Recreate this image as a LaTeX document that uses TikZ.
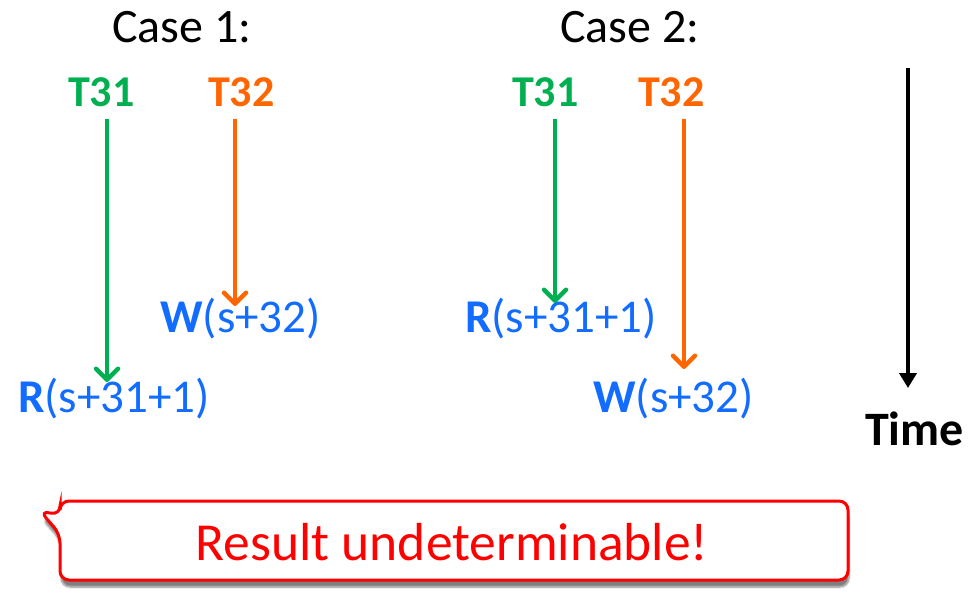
\documentclass[tikz,border=0pt]{standalone}
\usepackage{fontspec}
\setmainfont{Carlito}
\usetikzlibrary{arrows.meta,calc,shadows.blur}
\definecolor{tgreen}{RGB}{0,176,80}
\definecolor{torange}{RGB}{255,102,0}
\definecolor{opblue}{RGB}{17,108,255}
\definecolor{alertred}{RGB}{255,0,0}
\begin{document}
\begin{tikzpicture}[x=1pt,y=-1pt,
  lbl/.style={inner sep=0pt,anchor=base west},
  casehead/.style={lbl,font=\fontsize{48}{54}\selectfont},
  thread/.style={lbl,font=\fontsize{44}{50}\selectfont\bfseries},
  op/.style={lbl,text=opblue,font=\fontsize{47}{53}\selectfont},
  flow/.style={line width=4.5pt,-{Straight Barb[length=11pt,width=22pt,line width=4.5pt,round]}},
  timeline/.style={line width=4pt,-{Triangle[length=15pt,width=17pt]}},
  callout/.style={draw=alertred,line width=3pt,fill=white,rounded corners=9pt,
    blur shadow={shadow xshift=1pt,shadow yshift=-7pt,shadow blur steps=6,shadow opacity=50}}]
\useasboundingbox (0,0) rectangle (973,595);

% column headings
\node[casehead] (c1) at (112,42) {Case 1:};
\node[casehead] (c2) at (560,42) {Case 2:};

% threads
\node[thread,text=tgreen]  (t31a) at (68,106)  {T31};
\node[thread,text=torange] (t32a) at (208,106) {T32};
\node[thread,text=tgreen]  (t31b) at (512,106) {T31};
\node[thread,text=torange] (t32b) at (638,106) {T32};

% memory operations
\node[op] (wa) at (160,332) {\textbf{W}(s+32)};
\node[op] (ra) at (18,412)  {\textbf{R}(s+31+1)};
\node[op] (rb) at (465,332) {\textbf{R}(s+31+1)};
\node[op] (wb) at (593,412) {\textbf{W}(s+32)};

% arrow ends
\coordinate (ga) at (107,382);
\coordinate (oa) at (235,306);
\coordinate (gb) at (555,303);
\coordinate (ob) at (684,369);

\draw[flow,tgreen]  ($(t31a.south -| ga)+(0,12)$) -- (ga);
\draw[flow,torange] ($(t32a.south -| oa)+(0,12)$) -- (oa);
\draw[flow,tgreen]  ($(t31b.south -| gb)+(0,12)$) -- (gb);
\draw[flow,torange] ($(t32b.south -| ob)+(0,12)$) -- (ob);

% time axis
\node[lbl,font=\fontsize{48}{54}\selectfont\bfseries] (time) at (865,445) {Time};
\coordinate (ttop) at (908,68);
\coordinate (tend) at (908,388);
\draw[timeline] (ttop) -- (tend);

% callout
\path[callout] (40,511) -- (60,515) -- (60,501) -- (848,501) -- (848,580) -- (60,580) -- (60,534) -- cycle;
\node[inner sep=0pt,anchor=base,text=alertred,font=\fontsize{53.5}{60}\selectfont] (res) at (452,560) {Result undeterminable!};
\end{tikzpicture}
\end{document}
